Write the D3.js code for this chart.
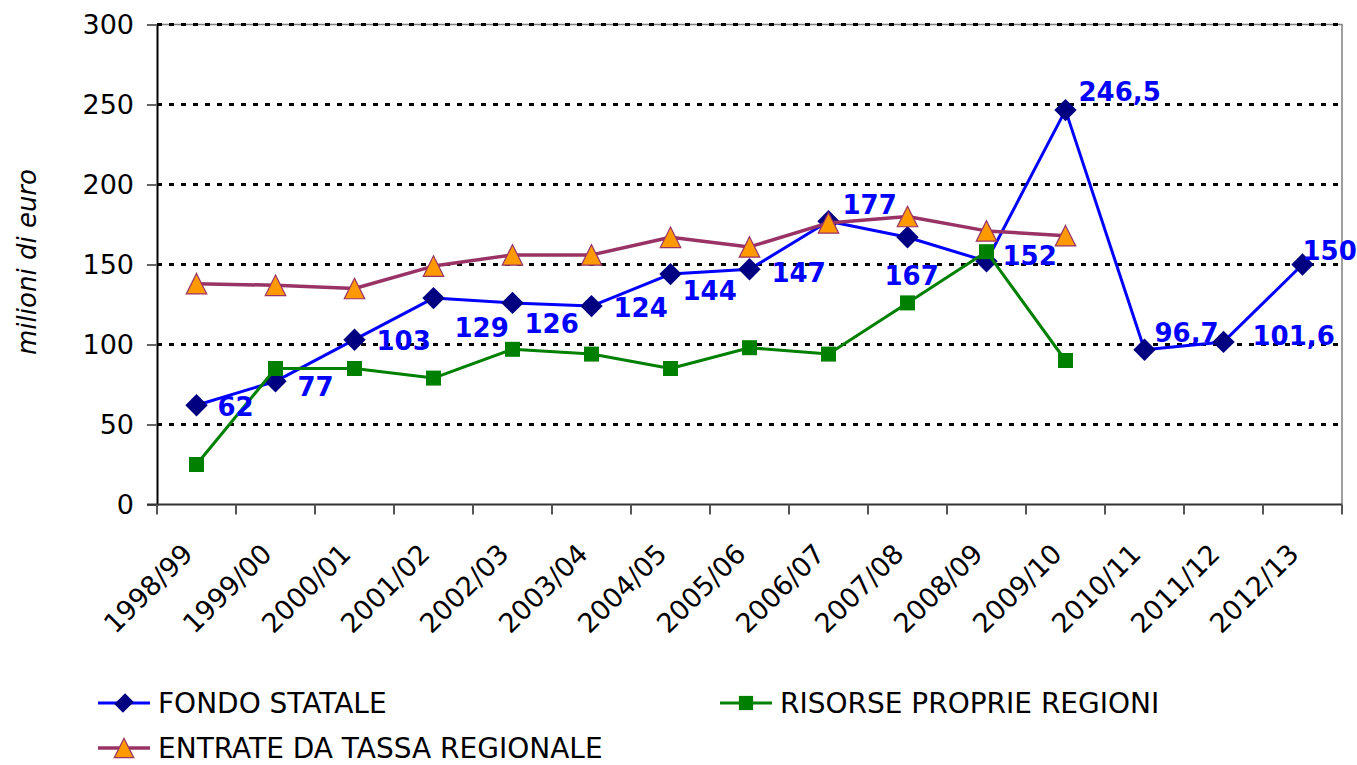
<!DOCTYPE html>
<html>
<head>
<meta charset="utf-8">
<script src="https://cdn.jsdelivr.net/npm/d3@7"></script>
<style>
  body { margin: 0; background: #fff; }
  svg { display: block; }
  text { font-family: 'DejaVu Sans', Verdana, sans-serif; }
</style>
</head>
<body>
<div id="chart"></div>
<script>
// data
const years = ['1998/99','1999/00','2000/01','2001/02','2002/03','2003/04','2004/05',
  '2005/06','2006/07','2007/08','2008/09','2009/10','2010/11','2011/12','2012/13'];
const fondoStatale = [62, 77, 103, 129, 126, 124, 144, 147, 177, 167, 152, 246.5, 96.7, 101.6, 150];
const risorseProprie = [25, 85, 85, 79, 97, 94, 85, 98, 94, 126, 158, 90, null, null, null];
const entrateTassa = [138, 137, 135, 149, 156, 156, 167, 161, 176, 180, 171, 168, null, null, null];
const yTicks = [0, 50, 100, 150, 200, 250, 300];
const seriesNames = ['FONDO STATALE', 'RISORSE PROPRIE REGIONI', 'ENTRATE DA TASSA REGIONALE'];

// where each FONDO STATALE label sits relative to its point (px)
const labelOffsets = [[21,1],[22,5],[22,1],[21,30],[12,21],[22,2],[12,17],[22,3],
  [14,-17],[-23,38],[16,-6],[13,-18],[10,-17],[29,-6],[0,-14]];

const width = 1357, height = 765;
const plot = {left: 157, right: 1342, top: 24.5, bottom: 504.5};

const svg = d3.select('#chart').append('svg')
  .attr('width', width)
  .attr('height', height);

const x = d3.scaleBand().domain(years).range([plot.left, plot.right]);
const y = d3.scaleLinear().domain([0, 300]).range([plot.bottom, plot.top]);
const cx = function(d) { return x(d) + x.bandwidth() / 2; };

// plot border (top and right)
svg.append('path')
  .attr('d', `M${plot.left},${plot.top}H${plot.right}V${plot.bottom}`)
  .attr('fill', 'none')
  .attr('stroke', '#808080')
  .attr('stroke-width', 1.5);

// dotted gridlines
svg.selectAll('.grid')
  .data(yTicks.filter(function(t) { return t > 0; }))
  .enter()
  .append('line')
  .attr('class', 'grid')
  .attr('x1', plot.left)
  .attr('x2', plot.right)
  .attr('y1', function(d) { return y(d); })
  .attr('y2', function(d) { return y(d); })
  .attr('stroke', '#000')
  .attr('stroke-width', 3)
  .attr('stroke-dasharray', '5,7');

// y axis
const yAxis = svg.append('g')
  .attr('transform', `translate(${plot.left},0)`)
  .call(d3.axisLeft(y).tickValues(yTicks).tickSize(10).tickPadding(13));
yAxis.select('.domain').attr('stroke', '#000').attr('stroke-width', 2);
yAxis.selectAll('.tick line').attr('stroke', '#666').attr('stroke-width', 2);
yAxis.selectAll('.tick text')
  .attr('font-size', 27)
  .attr('font-family', "'DejaVu Sans', Verdana, sans-serif")
  .attr('fill', '#000');

// x axis line + ticks at category boundaries
svg.append('line')
  .attr('x1', plot.left - 10).attr('x2', plot.right)
  .attr('y1', plot.bottom).attr('y2', plot.bottom)
  .attr('stroke', '#333').attr('stroke-width', 2);

const bounds = years.map(function(d) { return x(d); }).concat([plot.right]);
svg.selectAll('.xtick')
  .data(bounds)
  .enter()
  .append('line')
  .attr('class', 'xtick')
  .attr('x1', function(d) { return d; })
  .attr('x2', function(d) { return d; })
  .attr('y1', plot.bottom)
  .attr('y2', plot.bottom + 10)
  .attr('stroke', '#555')
  .attr('stroke-width', 2);

svg.selectAll('.xlabel')
  .data(years)
  .enter()
  .append('text')
  .attr('class', 'xlabel')
  .attr('transform', function(d) { return `translate(${cx(d) - 2},${plot.bottom + 51}) rotate(-45)`; })
  .attr('text-anchor', 'end')
  .attr('font-size', 27)
  .text(function(d) { return d; });

// y axis title
svg.append('text')
  .attr('transform', 'translate(36,262) rotate(-90)')
  .attr('text-anchor', 'middle')
  .attr('font-size', 26)
  .attr('font-style', 'italic')
  .text('milioni di euro');

// marker shapes
const triangleType = {
  draw: function(ctx, size) {
    let r = Math.sqrt(size) / 2;
    ctx.moveTo(0, -r);
    ctx.lineTo(r, r);
    ctx.lineTo(-r, r);
    ctx.closePath();
  }
};

const series = [
  {name: seriesNames[0], values: fondoStatale, line: '#0000FF', lw: 3,
    shape: d3.symbolSquare, size: 250, rot: 45, fill: '#000080', stroke: 'none'},
  {name: seriesNames[1], values: risorseProprie, line: '#008000', lw: 3,
    shape: d3.symbolSquare, size: 225, rot: 0, fill: '#008000', stroke: 'none'},
  {name: seriesNames[2], values: entrateTassa, line: '#993366', lw: 3.5,
    shape: triangleType, size: 420, rot: 0, fill: '#FF9900', stroke: '#993366'}
];

const lineGen = d3.line()
  .defined(function(d) { return d.v != null; })
  .x(function(d) { return cx(d.year); })
  .y(function(d) { return y(d.v); });

series.forEach(function(s) {
  let pts = years.map(function(yr, i) { return {year: yr, v: s.values[i]}; });
  let g = svg.append('g');

  g.append('path')
    .datum(pts)
    .attr('d', lineGen)
    .attr('fill', 'none')
    .attr('stroke', s.line)
    .attr('stroke-width', s.lw)
    .attr('stroke-linejoin', 'round');

  g.selectAll('.mk')
    .data(pts.filter(function(d) { return d.v != null; }))
    .enter()
    .append('path')
    .attr('class', 'mk')
    .attr('d', d3.symbol().type(s.shape).size(s.size))
    .attr('transform', function(d) { return `translate(${cx(d.year)},${y(d.v)}) rotate(${s.rot})`; })
    .attr('fill', s.fill)
    .attr('stroke', s.stroke)
    .attr('stroke-width', 1.2);
});

// data labels for FONDO STATALE
svg.selectAll('.lbl')
  .data(fondoStatale)
  .enter()
  .append('text')
  .attr('class', 'lbl')
  .attr('x', function(d, i) { return cx(years[i]) + labelOffsets[i][0]; })
  .attr('y', function(d, i) { return y(d) + labelOffsets[i][1]; })
  .attr('dy', '0.36em')
  .attr('font-size', 26)
  .attr('font-weight', 'bold')
  .attr('fill', '#0000FF')
  .text(function(d) { return String(d).replace('.', ','); });

// legend
const legendPos = [[98, 703], [720, 703], [98, 748]];
series.forEach(function(s, i) {
  let lg = svg.append('g')
    .attr('transform', `translate(${legendPos[i][0]},${legendPos[i][1]})`);
  lg.append('line')
    .attr('x1', 0).attr('x2', 52)
    .attr('stroke', s.line)
    .attr('stroke-width', s.lw);
  lg.append('path')
    .attr('d', d3.symbol().type(s.shape).size(i === 0 ? 150 : s.size * 0.9))
    .attr('transform', `translate(26,0) rotate(${s.rot})` + (i === 0 ? ' scale(1,1.25)' : ''))
    .attr('fill', s.fill)
    .attr('stroke', s.stroke)
    .attr('stroke-width', 1.2);
  lg.append('text')
    .attr('x', 60)
    .attr('dy', '0.36em')
    .attr('font-size', 28)
    .text(s.name);
});
</script>
</body>
</html>
